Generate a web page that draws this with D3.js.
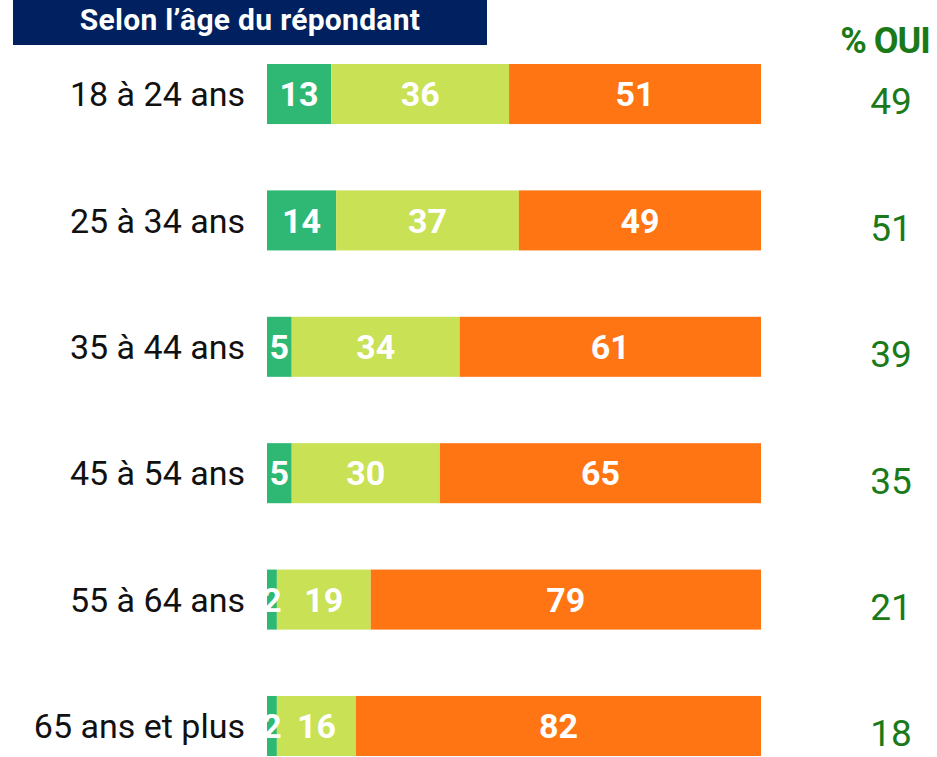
<!DOCTYPE html>
<html>
<head>
<meta charset="utf-8">
<script src="https://cdn.jsdelivr.net/npm/d3@7"></script>
<style>
  html, body { margin: 0; padding: 0; background: #fff; }
  svg { display: block; font-family: Roboto, "Noto Sans", sans-serif; }
</style>
</head>
<body>
<svg id="chart" width="937" height="757"></svg>
<script>
// Age groups and response shares (%)
const categories = ["18 à 24 ans", "25 à 34 ans", "35 à 44 ans", "45 à 54 ans", "55 à 64 ans", "65 ans et plus"];
const seriesKeys = ["a", "b", "c"];
const valuesA = [13, 14, 5, 5, 2, 2];
const valuesB = [36, 37, 34, 30, 19, 16];
const valuesC = [51, 49, 61, 65, 79, 82];
const ouiValues = [49, 51, 39, 35, 21, 18];
const title = "Selon l’âge du répondant";
const ouiHeader = "% OUI";

const colors = { a: "#2eb873", b: "#c8e155", c: "#ff7514" };

const rows = categories.map((c, i) => ({ cat: c, a: valuesA[i], b: valuesB[i], c: valuesC[i], oui: ouiValues[i] }));

const svg = d3.select("#chart");

const x = d3.scaleLinear().domain([0, 100]).range([267, 761]);
const y = d3.scaleBand().domain(categories).range([64, 756]).paddingInner(0.525).paddingOuter(0);

// Title banner
svg.append("rect").attr("x", 13).attr("y", 0).attr("width", 474).attr("height", 45).attr("fill", "#002060");
svg.append("text").attr("x", 250).attr("y", 30).attr("text-anchor", "middle")
  .attr("fill", "#fff").attr("font-weight", 700).attr("font-size", 30).attr("letter-spacing", 0.3).text(title);

// "% OUI" column header
svg.append("text").attr("x", 885).attr("y", 53).attr("text-anchor", "middle")
  .attr("fill", "#1a7a1a").attr("font-weight", 700).attr("font-size", 36).attr("letter-spacing", -1).text(ouiHeader);

const stack = d3.stack().keys(seriesKeys)(rows);

const layers = svg.append("g").selectAll("g").data(stack).join("g")
  .attr("fill", d => colors[d.key]);

layers.selectAll("rect").data(d => d).join("rect")
  .attr("x", d => x(d[0]))
  .attr("y", d => y(d.data.cat))
  .attr("width", d => x(d[1]) - x(d[0]))
  .attr("height", y.bandwidth());

// Segment value labels
const labels = svg.append("g");
stack.forEach(layer => {
  labels.selectAll(null).data(layer).join("text")
    .attr("x", d => (x(d[0]) + x(d[1])) / 2)
    .attr("y", d => y(d.data.cat) + y.bandwidth() / 2)
    .attr("dy", "0.36em")
    .attr("text-anchor", "middle")
    .attr("fill", "#fff")
    .attr("font-weight", 700)
    .attr("font-size", 34)
    .text(d => d[1] - d[0]);
});

// Category labels
const yAxis = d3.axisLeft(y).tickSize(0).tickPadding(0);
const axisG = svg.append("g").attr("transform", "translate(245,0)").call(yAxis);
axisG.select(".domain").remove();
axisG.selectAll("text").attr("font-size", 34).attr("fill", "#111")
  .attr("font-family", "Roboto, sans-serif").attr("dy", "0.36em");

// % OUI values
svg.append("g").selectAll("text").data(rows).join("text")
  .attr("x", 891)
  .attr("y", d => y(d.cat) + y.bandwidth() / 2 + 7)
  .attr("dy", "0.36em")
  .attr("text-anchor", "middle")
  .attr("fill", "#1a7a1a")
  .attr("font-size", 37)
  .text(d => d.oui);
</script>
</body>
</html>
